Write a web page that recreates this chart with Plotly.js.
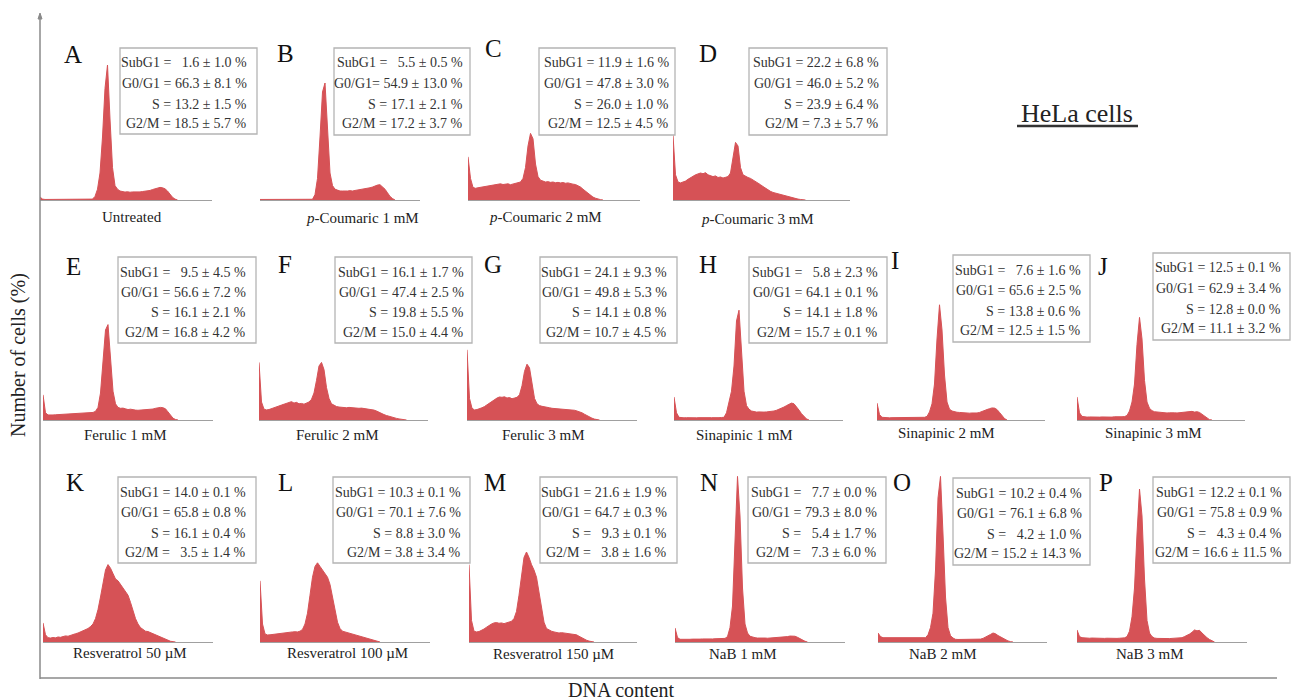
<!DOCTYPE html>
<html>
<head>
<meta charset="utf-8">
<script src="https://cdn.plot.ly/plotly-3.0.1.min.js"></script>
<style>html,body{margin:0;padding:0;background:#fff;}#chart{width:1291px;height:700px;}</style>
</head>
<body>
<div id="chart"></div>
<script>
// ---------- DATA ----------
const panelLetters = ["A","B","C","D","E","F","G","H","I","J","K","L","M","N","O","P"];
const treatments = ["Untreated","<i>p</i>-Coumaric 1 mM","<i>p</i>-Coumaric 2 mM","<i>p</i>-Coumaric 3 mM",
  "Ferulic 1 mM","Ferulic 2 mM","Ferulic 3 mM","Sinapinic 1 mM","Sinapinic 2 mM","Sinapinic 3 mM",
  "Resveratrol 50 \u00b5M","Resveratrol 100 \u00b5M","Resveratrol 150 \u00b5M","NaB 1 mM","NaB 2 mM","NaB 3 mM"];
const F = "\u2007"; // figure space used for alignment as in the original
const subG1 = [F+"1.6 ± 1.0",F+"5.5 ± 0.5","11.9 ± 1.6","22.2 ± 6.8",F+"9.5 ± 4.5","16.1 ± 1.7","24.1 ± 9.3",F+"5.8 ± 2.3",
  F+"7.6 ± 1.6","12.5 ± 0.1","14.0 ± 0.1","10.3 ± 0.1","21.6 ± 1.9",F+"7.7 ± 0.0","10.2 ± 0.4","12.2 ± 0.1"];
const g0g1 = ["66.3 ± 8.1","54.9 ± 13.0","47.8 ± 3.0","46.0 ± 5.2","56.6 ± 7.2","47.4 ± 2.5","49.8 ± 5.3","64.1 ± 0.1",
  "65.6 ± 2.5","62.9 ± 3.4","65.8 ± 0.8","70.1 ± 7.6","64.7 ± 0.3","79.3 ± 8.0","76.1 ± 6.8","75.8 ± 0.9"];
const sPhase = ["13.2 ± 1.5","17.1 ± 2.1","26.0 ± 1.0","23.9 ± 6.4","16.1 ± 2.1","19.8 ± 5.5","14.1 ± 0.8","14.1 ± 1.8",
  "13.8 ± 0.6","12.8 ± 0.0","16.1 ± 0.4","8.8 ± 3.0",F+"9.3 ± 0.1",F+"5.4 ± 1.7",F+"4.2 ± 1.0",F+"4.3 ± 0.4"];
const g2m = ["18.5 ± 5.7","17.2 ± 3.7","12.5 ± 4.5","7.3 ± 5.7","16.8 ± 4.2","15.0 ± 4.4","10.7 ± 4.5","15.7 ± 0.1",
  "12.5 ± 1.5","11.1 ± 3.2",F+"3.5 ± 1.4","3.8 ± 3.4",F+"3.8 ± 1.6",F+"7.3 ± 6.0","15.2 ± 14.3","16.6 ± 11.5"];

// histogram counts per DNA-content channel (relative units)
const histA = [1.7,0.5,0.3,0.3,0.3,0.3,0.3,0.3,0.3,0.3,0.3,0.3,0.3,0.3,0.3,0.3,0.3,0.3,0.3,0.3,0.3,0.5,2,6,15,35,62,75,45,18,8,6,5,4.5,4.4,4.6,4.3,4.5,4.4,4.6,4.5,4.7,4.8,5.0,5.3,5.8,6.2,6.7,7.0,6.8,6.2,5.0,3.0,1.5,0.5,0];
const histB = [0.3,0.3,0.3,0.3,0.3,0.3,0.3,0.3,0.3,0.3,0.3,0.3,0.3,0.3,0.3,0.3,0.3,0.3,0.3,0.3,0.3,0.4,3,12,35,60,65,40,15,8,6,5.5,5,5,4.8,5,5.2,5,5.3,5.5,5.6,5.8,6,6.3,6.8,7.2,7.8,8.3,8.5,7.5,6,4,2,0.8,0];
const histC = [24,12,7,6.5,6.8,7,7.2,7.5,7.8,8,8.4,8.6,8.8,9,8.6,8.7,9,8.5,8.8,9,9.4,10,12,18,30,37,34,20,13,11,10.5,10,10.2,9.8,10,9.6,9.8,9.5,9.7,9.3,9.5,9,8.8,8.6,8,7.2,6,4.8,3.6,2.5,1.6,1,0.5,0.2,0];
const histD = [36,14,10,9.5,10,10.5,11.5,12.5,13.5,14,14.5,15,14.6,15.2,14,13.6,13,13.4,12.5,12.8,12.2,12.6,13,15,24,32,30,18,14,13,12.5,12,11.2,10.5,9.5,8.5,7.5,6.5,5.5,4.8,4.2,3.8,3.4,3,2.6,2.2,1.8,1.5,1.1,0.8,0.5,0.3,0.1,0];
const histE = [14,4,2.8,2.6,2.8,2.9,3,3,3.1,3.2,3.3,3.3,3.4,3.5,3.6,3.6,3.7,3.8,3.9,4,4.2,4.8,7,15,32,50,53,35,16,9,7,6.5,6.6,6.2,5.8,6,5.6,5.5,5.4,5.5,5.3,5.4,5.6,5.8,6.1,6.5,6.8,7,6.8,6.2,4.5,2.5,1,0.3,0];
const histF = [32,10,6,5.6,5.8,6.2,6.8,7.2,7.8,8.3,8.8,9.4,9.8,10.2,9.4,9.8,9,9.2,8.8,9.4,10,11.5,15,22,30,32,28,18,12,9,8,7.5,7.2,7,7.2,6.8,7,6.8,6.6,6.8,6.5,6.6,6.4,6.5,6.2,6,5.5,5,4.2,3.6,3,2.5,2,1.6,1.2,0.9,0.6,0.4,0.2,0];
const histG = [39,12,6.5,5.6,5.8,6.2,6.8,7.5,8.5,9.5,10.5,11.5,12.2,12.8,12.6,12.9,12.2,12.5,11.8,12.2,12.6,14,19,27,31,29,20,12,9,8,7.6,7.2,7,6.8,6.5,6.4,6.2,6.2,6,5.8,5.8,5.6,5.5,5.4,5,4.6,4,3.2,2.4,1.6,1,0.5,0.2,0];
const histH = [12.8,4,1.5,1.2,1.2,1.3,1.2,1.3,1.2,1.2,1.3,1.2,1.3,1.2,1.3,1.3,1.2,1.4,1.3,1.4,1.5,4,10,16,30,55,61,40,16,8,6,5,4.6,4.4,4.5,4.3,4.4,4.5,4.6,4.8,5,5.4,5.9,6.5,7.2,8,8.8,9.4,9,7.5,5.5,3.5,1.8,0.6,0];
const histI = [9.4,3,1.5,1.3,1.3,1.2,1.3,1.3,1.2,1.3,1.3,1.4,1.3,1.3,1.4,1.3,1.4,1.4,1.3,1.5,2,4.5,9,20,45,64,50,25,10,6,5,4.5,4.3,4.2,4,4,3.9,3.8,3.9,3.8,3.9,4.2,4.6,5.2,5.8,6.3,6.7,6.6,5.8,4.2,2.2,0.8,0];
const histJ = [12.8,4,2,1.6,1.6,1.7,1.6,1.6,1.7,1.6,1.7,1.6,1.7,1.7,1.6,1.8,1.7,1.8,1.8,1.9,2.5,5,10,20,42,57,45,22,10,6.5,5.2,4.6,4.4,4.2,4,4.1,3.9,4,3.8,4,3.9,4.1,4.2,4.5,4.3,4.6,4.8,4.4,4.6,4.2,3.2,1.8,0.8,0.2,0];
const histK = [10.6,4,2.4,2.2,2.5,2.3,2.8,2.6,3,3.4,3.2,3.8,4.2,4.6,5,5.6,6,6.8,7.5,8.6,10,13,18,25,33,40,43,41,38,35,34,32,30,28,26,22,17,13,10,8,7,6,5.8,5.2,4.5,3.8,3.2,2.5,1.8,1.2,0.8,0.4,0.2,0];
const histL = [34,10,4.5,3.9,4,4.2,4.4,4.6,5,5.2,5.4,5.6,5.8,5.6,5.7,5.6,6,7,10,16,26,36,42,44,42,40,38,36,32,25,17,11,7.5,6,5.6,5.2,4.8,4.4,4,3.5,3,2.5,2,1.6,1.2,0.8,0.5,0.3,0];
const histM = [43,12,6,5.6,5.8,6.4,7.2,8.2,9.2,10,10.6,10.8,10.4,10.6,10.2,10.5,10.8,11.5,13,17,26,38,47,50,47,43,40,36,28,18,11,7.5,6.5,6,5.6,5.2,5,5.2,5,4.8,5,4.6,4.4,4,3.2,2.4,1.6,1,0.5,0.2,0];
const histN = [7.8,2.5,1.5,1.4,1.5,1.4,1.5,1.6,1.5,1.6,1.6,1.7,1.6,1.7,1.8,1.7,1.8,1.9,1.8,1.9,2,3,8,20,55,92,70,30,10,5,3.2,2.6,2.4,2.2,2.3,2.2,2.2,2.1,2.2,2.3,2.2,2.3,2.4,2.5,2.6,3,3.3,3.4,3.2,2.6,1.8,1,0.4,0];
const histO = [5,3,2.4,2.4,2.3,2.4,2.3,2.2,2.3,2.2,2.2,2.1,2.2,2.1,2.1,2,2.1,2,2,2.4,4,8,16,40,80,92,60,25,8,3.5,2.2,1.5,1.4,1.4,1.3,1.4,1.4,1.3,1.4,1.5,1.4,1.6,2,2.6,3.4,4.2,5,4.6,3.6,2.8,2,1.2,0.6,0.2,0];
const histP = [6.7,3,2.4,2.2,2.2,2.1,2.2,2.1,2,2.1,2,2,2.1,2,2,2.1,2,2.1,2.2,2.3,3,6,14,30,60,85,70,35,12,5,3,2.2,2,1.9,2,1.9,2,1.9,2,2.1,2,2.2,2.4,3,3.6,4.4,5.4,6.7,6.2,6.5,5,3.6,2.4,1.4,0.6,0];
const hists = [histA,histB,histC,histD,histE,histF,histG,histH,histI,histJ,histK,histL,histM,histN,histO,histP];

// ---------- LAYOUT GEOMETRY (pixels) ----------
const W = 1291, H = 700;
const X = px => px / W, Y = py => 1 - py / H;
const RED = "rgb(214,82,86)";
const FONT = "Liberation Serif, Times New Roman, serif";
// plot left x, baseline y, plot width
const geom = [
  [40,200,172],[260,200,160],[468,200,172],[673,200,177],
  [43,420,170],[259,420,169],[467,420,170],[674,420,169],[877,420,168],[1077,420,168],
  [43,642,170],[260,642,170],[469,642,168],[675,642,170],[878,642,169],[1077,642,170]];
const UNIT = 2.5, YSCALE = 1.8; // px per channel, px per count unit
const letterPos = [[73,54],[285,53],[493,48],[708,53],[73,266],[285,264],[493,264],[708,264],[895,261],[1103,266],
  [75,483],[285,483],[495,483],[709,483],[902,482],[1106,482]];
const labelPos = [[132,217],[362,218],[545,217],[757,219],[125,435],[337,435],[543,435],[744,435],[947,433],[1153,433],
  [130,653],[347,653],[553,654],[743,654],[943,654],[1150,654]];
// box: left, top, right, bottom, text right edge
const boxes = [[120,48,257,134,249],[334,48,470,135,465],[539,48,675,135,671],[749,48,887,135,881],
  [118,257,256,343,248],[335,257,472,343,466],[540,257,677,343,669],[749,257,887,343,880],
  [953,255,1090,342,1083],[1153,253,1290,340,1283],
  [118,477,256,563,248],[333,477,470,563,463],[540,477,677,563,669],[748,477,886,563,879],
  [953,478,1090,565,1084],[1153,477,1290,563,1284]];

const traces = [], annotations = [], shapes = [];
const layout = {
  width: W, height: H, margin: {l:0,r:0,t:0,b:0}, showlegend: false,
  paper_bgcolor: "#fff", plot_bgcolor: "rgba(0,0,0,0)",
  font: {family: FONT, color: "#222"}
};

hists.forEach((vals, i) => {
  const k = i + 1, sfx = k === 1 ? "" : String(k);
  const [x0, base, w] = geom[i];
  traces.push({
    type: "scatter", mode: "lines", x: vals.map((_, j) => j), y: vals,
    xaxis: "x" + sfx, yaxis: "y" + sfx, fill: "tozeroy", fillcolor: RED,
    line: {color: RED, width: 1}, hoverinfo: "skip", cliponaxis: false
  });
  layout["xaxis" + sfx] = {
    domain: [X(x0), X(x0 + w)], range: [0, w / UNIT], showline: true, linecolor: "#a0a0a0", linewidth: 1,
    showgrid: false, zeroline: false, showticklabels: false, ticks: "", anchor: "y" + sfx, layer: "below traces", fixedrange: true
  };
  layout["yaxis" + sfx] = {
    domain: [Y(base), Y(base - 100 * YSCALE)], range: [0, 100], visible: false, anchor: "x" + sfx, fixedrange: true
  };
  annotations.push({xref:"paper", yref:"paper", x: X(letterPos[i][0]), y: Y(letterPos[i][1]), text: panelLetters[i],
    showarrow:false, xanchor:"center", yanchor:"middle", font:{family:FONT, size:25, color:"#111"}});
  annotations.push({xref:"paper", yref:"paper", x: X(labelPos[i][0]), y: Y(labelPos[i][1]), text: treatments[i],
    showarrow:false, xanchor:"center", yanchor:"middle", font:{family:FONT, size:15, color:"#222"}});
  const [bl, bt, br, bb, tr] = boxes[i];
  shapes.push({type:"rect", xref:"paper", yref:"paper", x0:X(bl), x1:X(br), y0:Y(bb), y1:Y(bt),
    line:{color:"#b4b4b4", width:1.3}, fillcolor:"rgba(255,255,255,0)"});
  const lines = ["SubG1 = " + subG1[i] + " %", (i === 1 ? "G0/G1= " : "G0/G1 = ") + g0g1[i] + " %",
    "S = " + sPhase[i] + " %", "G2/M = " + g2m[i] + " %"];
  const offs = [15, 35.5, 56, 75.5];
  lines.forEach((t, j) => {
    annotations.push({xref:"paper", yref:"paper", x: X(tr), y: Y(bt + offs[j]), text: t.replace(/ /g, "\u00a0"),
      showarrow:false, xanchor:"right", yanchor:"middle", font:{family:FONT, size:14, color:"#333"}});
  });
});

// outer axes
shapes.push({type:"line", xref:"paper", yref:"paper", x0:X(40), x1:X(40), y0:Y(679), y1:Y(15), line:{color:"#8a8a8a", width:1.5}});
shapes.push({type:"line", xref:"paper", yref:"paper", x0:X(40), x1:X(1277), y0:Y(678), y1:Y(678), line:{color:"#8a8a8a", width:1.5}});
shapes.push({type:"path", xref:"paper", yref:"paper",
  path:`M ${X(38)} ${Y(19)} L ${X(40)} ${Y(13)} L ${X(42)} ${Y(19)} Z`, fillcolor:"#8a8a8a", line:{color:"#8a8a8a", width:1}});
shapes.push({type:"line", xref:"paper", yref:"paper", x0:X(1017), x1:X(1138), y0:Y(126), y1:Y(126), line:{color:"#333", width:2.5}});

annotations.push({xref:"paper", yref:"paper", x:X(1077), y:Y(113), text:"HeLa cells", showarrow:false,
  xanchor:"center", yanchor:"middle", font:{family:FONT, size:26, color:"#222"}});
annotations.push({xref:"paper", yref:"paper", x:X(18), y:Y(355), text:"Number of cells (%)", showarrow:false, textangle:-90,
  xanchor:"center", yanchor:"middle", font:{family:FONT, size:20, color:"#222"}});
annotations.push({xref:"paper", yref:"paper", x:X(621), y:Y(690), text:"DNA content", showarrow:false,
  xanchor:"center", yanchor:"middle", font:{family:FONT, size:20, color:"#222"}});

layout.annotations = annotations;
layout.shapes = shapes;
Plotly.newPlot("chart", traces, layout, {displayModeBar:false, staticPlot:true});
</script>
</body>
</html>
